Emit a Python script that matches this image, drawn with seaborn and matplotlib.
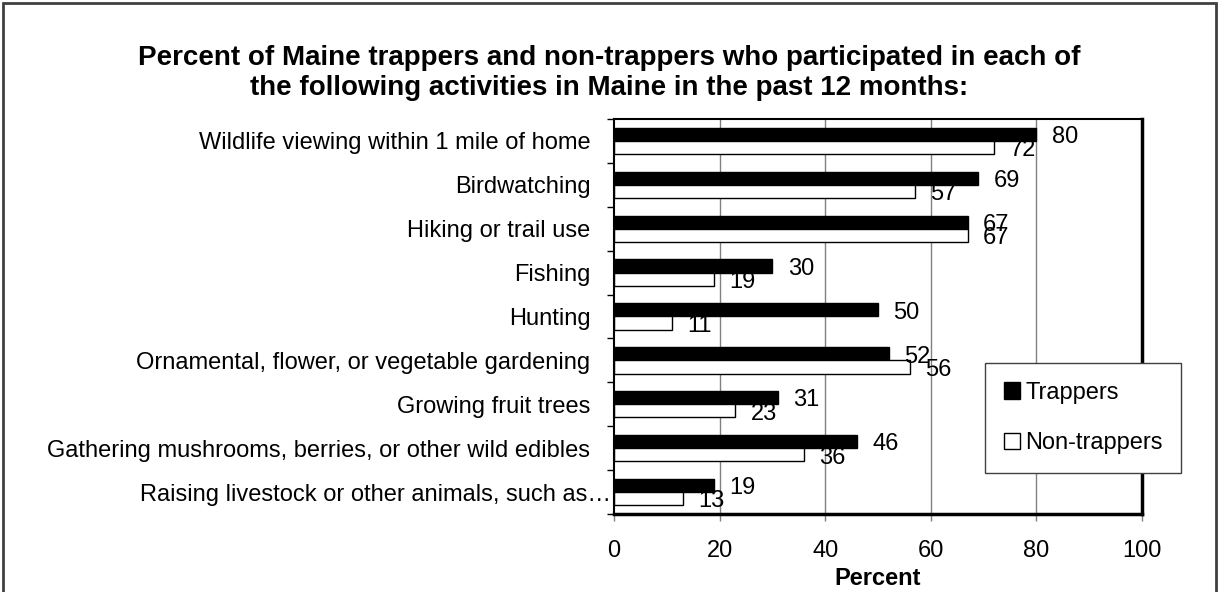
import matplotlib
matplotlib.use("Agg")
import matplotlib.pyplot as plt
import matplotlib.patches as mpatches
import matplotlib.transforms as mtransforms
import numpy as np
import pandas as pd
import seaborn as sns

# Survey results
activities = [
    "Wildlife viewing within 1 mile of home",
    "Birdwatching",
    "Hiking or trail use",
    "Fishing",
    "Hunting",
    "Ornamental, flower, or vegetable gardening",
    "Growing fruit trees",
    "Gathering mushrooms, berries, or other wild edibles",
    "Raising livestock or other animals, such as\u2026",
]
trappers = [80, 69, 67, 30, 50, 52, 31, 46, 19]
non_trappers = [72, 57, 67, 19, 11, 56, 23, 36, 13]
groups = ["Trappers", "Non-trappers"]
x_ticks = [0, 20, 40, 60, 80, 100]

df = pd.DataFrame({
    "Activity": activities * 2,
    "Percent": trappers + non_trappers,
    "Group": [groups[0]] * len(activities) + [groups[1]] * len(activities),
})

sns.set_theme(style="white")
plt.rcParams["font.family"] = ["Liberation Sans", "DejaVu Sans"]
plt.rcParams["text.color"] = "black"
plt.rcParams["xtick.color"] = "black"
plt.rcParams["ytick.color"] = "black"
plt.rcParams["axes.labelcolor"] = "black"

FS = 17

fig = plt.figure(figsize=(12.19, 5.92), dpi=100)
ax = fig.add_axes([0.5037, 0.1318, 0.4331, 0.6672])

sns.barplot(
    data=df, y="Activity", x="Percent", hue="Group", order=activities,
    hue_order=groups, palette={"Trappers": "black", "Non-trappers": "white"},
    orient="h", width=0.6, edgecolor="black", linewidth=1.0,
    saturation=1, legend=False, ax=ax,
)

# Value labels beside each bar
for cont in ax.containers:
    labels = ax.bar_label(cont, fmt="%d", padding=11, fontsize=FS, color="black")
    for t in labels:
        t.xyann = (11, -2)

ax.set_xlim(0, 100)
ax.set_ylim(len(activities) - 0.5, -0.5)
ax.set_xticks(x_ticks)
ax.set_xticklabels([str(v) for v in x_ticks], fontsize=FS)
ax.tick_params(axis="x", length=5, width=1, color="#808080", pad=14, direction="out", bottom=True)

ax.set_yticks(range(len(activities)))
ax.set_yticklabels(activities, fontsize=FS)
ax.set_yticks(np.arange(-0.5, len(activities), 1.0), minor=True)
ax.tick_params(axis="y", which="major", length=0, pad=17)
ax.tick_params(axis="y", which="minor", length=5, width=1, color="black", direction="out", left=True)

# The last label is truncated and sits closer to the axis
last = ax.get_yticklabels()[-1]
last.set_transform(last.get_transform() + mtransforms.ScaledTranslation(21 / 100, 0, fig.dpi_scale_trans))

ax.set_ylabel("")
ax.set_xlabel("Percent", fontsize=FS, fontweight="bold", labelpad=3)

ax.grid(False)
for v in x_ticks[1:-1]:
    ax.axvline(v, color="#808080", lw=1, zorder=0)

for side in ["top", "left"]:
    ax.spines[side].set_color("black")
    ax.spines[side].set_linewidth(1.5)
for side in ["right", "bottom"]:
    ax.spines[side].set_color("black")
    ax.spines[side].set_linewidth(2.5)

handles = [
    mpatches.Patch(facecolor="black", edgecolor="black", label="Trappers"),
    mpatches.Patch(facecolor="white", edgecolor="black", label="Non-trappers"),
]
leg = fig.legend(
    handles=handles, loc="upper left", bbox_to_anchor=(0.808, 0.387),
    fontsize=FS, frameon=True, fancybox=False, framealpha=1,
    edgecolor="#404040", handlelength=0.7, handleheight=0.7,
    handletextpad=0.2, labelspacing=1.2, borderpad=0.8, borderaxespad=0,
)
leg.get_frame().set_linewidth(1.0)

fig.text(
    0.5, 0.877,
    "Percent of Maine trappers and non-trappers who participated in each of\n"
    "the following activities in Maine in the past 12 months:",
    ha="center", va="center", fontsize=20, fontweight="bold", linespacing=1.22,
)

# Outer chart border
fig.patches.append(mpatches.Rectangle(
    (0.0025, -0.05), 0.995, 1.045, transform=fig.transFigure,
    fill=False, edgecolor="#404040", linewidth=2,
))

fig.savefig("out.png", dpi=100)
